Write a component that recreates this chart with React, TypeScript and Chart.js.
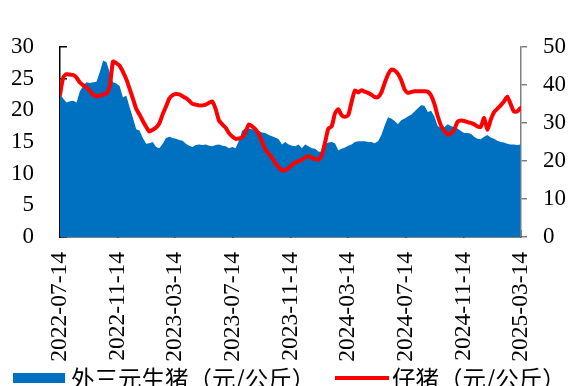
import React, { useEffect, useRef } from 'react';
import { Chart, registerables } from 'chart.js';

Chart.register(...registerables);

const START_DATE = '2022-07-14';
const TICK_LABELS = [
  '2022-07-14', '2022-11-14', '2023-03-14', '2023-07-14', '2023-11-14',
  '2024-03-14', '2024-07-14', '2024-11-14', '2025-03-14',
];
const SERIES_NAMES = ['外三元生猪（元/公斤）', '仔猪（元/公斤）'];

// weekly prices, starting 2022-07-14
const HOG_PRICE = [
  22.6, 21.8, 21.2, 21.4, 21.5, 21.2, 23.0, 23.8, 24.4, 24.3,
  24.4, 24.5, 26.0, 27.8, 27.6, 26.0, 24.4, 24.2, 23.8, 22.0,
  22.3, 20.5, 18.8, 17.0, 16.8, 15.6, 14.7, 14.8, 15.0, 14.2,
  14.0, 14.7, 15.6, 15.8, 15.6, 15.5, 15.3, 15.2, 14.7, 14.4,
  14.2, 14.5, 14.6, 14.5, 14.6, 14.4, 14.3, 14.5, 14.6, 14.4,
  14.3, 14.0, 14.2, 14.0, 15.2, 16.8, 17.1, 17.1, 17.0, 16.8,
  16.7, 16.5, 16.4, 16.1, 15.9, 15.7, 15.4, 14.6, 15.0, 14.6,
  14.4, 14.3, 14.6, 14.0, 14.6, 14.3, 14.0, 13.9, 13.5, 13.4,
  14.6, 14.9, 15.0, 14.8, 13.7, 13.9, 14.1, 14.4, 14.6, 15.0,
  15.1, 15.1, 15.1, 15.0, 15.0, 14.8, 15.1, 16.1, 17.6, 18.9,
  18.7, 18.3, 17.8, 18.4, 18.7, 19.0, 19.3, 19.8, 20.3, 20.8,
  20.7, 19.7, 19.9, 19.0, 17.5, 17.2, 17.3, 17.8, 17.5, 17.3,
  17.1, 16.7, 16.4, 16.4, 16.3, 15.8, 15.5, 15.4, 15.8, 16.1,
  15.7, 15.5, 15.2, 15.0, 14.9, 14.7, 14.6, 14.6, 14.5, 14.6,
];
const PIGLET_PRICE = [
  37.4, 42.0, 42.8, 42.7, 42.6, 41.9, 40.6, 39.9, 39.3, 38.5,
  37.4, 37.0, 37.2, 37.4, 37.7, 39.5, 46.1, 45.7, 45.0, 43.4,
  41.5, 39.0, 36.4, 33.7, 32.2, 30.5, 29.0, 27.7, 28.2, 28.8,
  29.9, 32.3, 34.3, 36.4, 37.3, 37.6, 37.5, 37.0, 36.5, 35.8,
  35.0, 34.8, 34.6, 34.6, 34.8, 35.3, 35.6, 33.6, 30.6, 29.6,
  28.7, 27.3, 26.4, 25.8, 25.9, 26.2, 27.6, 29.6, 29.1, 28.3,
  27.0, 25.0, 23.0, 21.9, 20.8, 19.4, 18.3, 17.5, 17.6, 18.1,
  18.9, 19.6, 19.9, 20.3, 20.9, 21.2, 20.8, 20.5, 20.3, 21.5,
  24.8, 28.5, 29.1, 32.5, 33.6, 32.0, 31.6, 32.0, 35.5, 38.5,
  38.0, 38.6, 38.2, 37.9, 37.4, 36.8, 36.8, 38.0, 40.5, 42.7,
  44.0, 43.8, 42.9, 41.2, 38.8, 37.9, 38.1, 38.3, 38.3, 38.3,
  38.3, 38.2, 37.2, 35.0, 31.8, 29.3, 27.9, 27.0, 27.3, 28.3,
  30.3, 30.6, 30.5, 30.2, 30.0, 29.6, 29.1, 28.9, 31.3, 28.2,
  30.8, 32.8, 33.7, 34.6, 35.6, 36.9, 35.0, 33.0, 33.0, 33.9,
];
const LEFT_MAX = 30;
const LEFT_STEP = 5;
const RIGHT_MAX = 50;
const RIGHT_STEP = 10;

const BLUE = '#0070C0';
const RED = '#FF0000';
const DAY_MS = 86400000;
const toDay = (s: string) => Math.round((Date.parse(s) - Date.parse(START_DATE)) / DAY_MS);
const TICK_DAYS = TICK_LABELS.map(toDay);
const X_MAX = TICK_DAYS[TICK_DAYS.length - 1];

const W = 572;
const H = 386;
const AREA_LEFT = 60;
const AREA_RIGHT = 521;
const AREA_TOP = 23;
const AREA_BOTTOM = 237;
const PAD_BOTTOM = 20;
const SERIF = '"Liberation Serif", "Times New Roman", serif';
const CJK = '"Noto Sans CJK SC", "Noto Sans", sans-serif';

export default function App() {
  const ref = useRef<HTMLCanvasElement>(null);

  useEffect(() => {
    const canvas = ref.current;
    if (!canvas) return;
    const chart = new Chart(canvas, {
      type: 'line',
      data: {
        datasets: [
          {
            label: SERIES_NAMES[0],
            data: HOG_PRICE.map((v, i) => ({ x: i * 7, y: v })),
            yAxisID: 'y',
            backgroundColor: BLUE,
            borderColor: BLUE,
            borderWidth: 0,
            pointRadius: 0,
            fill: 'origin',
            tension: 0,
            order: 1,
          },
          {
            label: SERIES_NAMES[1],
            data: PIGLET_PRICE.map((v, i) => ({ x: i * 7, y: v })),
            yAxisID: 'y1',
            borderColor: RED,
            backgroundColor: RED,
            borderWidth: 4,
            pointRadius: 0,
            fill: false,
            tension: 0.2,
            borderJoinStyle: 'round',
            borderCapStyle: 'round',
            order: 0,
          },
        ],
      },
      options: {
        responsive: false,
        maintainAspectRatio: false,
        animation: false,
        devicePixelRatio: 1,
        layout: { padding: { left: 0, right: 0, top: AREA_TOP, bottom: PAD_BOTTOM } },
        plugins: {
          tooltip: { enabled: false },
          legend: { display: false },
        },
        scales: {
          x: {
            type: 'linear',
            min: 0,
            max: X_MAX,
            afterBuildTicks: (scale: any) => {
              scale.ticks = TICK_DAYS.map((v) => ({ value: v }));
            },
            afterFit: (scale: any) => {
              scale.height = H - PAD_BOTTOM - AREA_BOTTOM;
            },
            ticks: {
              autoSkip: false,
              maxRotation: 90,
              minRotation: 90,
              padding: 22,
              color: '#000',
              font: { family: SERIF, size: 23.5 },
              callback: (value: any) => {
                const idx = TICK_DAYS.indexOf(Number(value));
                return idx >= 0 ? TICK_LABELS[idx] : '';
              },
            },
            grid: { drawOnChartArea: false, tickLength: -7, color: '#000', lineWidth: 1.5 },
            border: { display: true, color: '#000', width: 1.5 },
          },
          y: {
            type: 'linear',
            position: 'left',
            min: 0,
            max: LEFT_MAX,
            afterFit: (scale: any) => {
              scale.width = AREA_LEFT;
            },
            ticks: {
              stepSize: LEFT_STEP,
              autoSkip: false,
              padding: 33,
              color: '#000',
              font: { family: SERIF, size: 23 },
            },
            grid: { drawOnChartArea: false, tickLength: -7, color: '#000', lineWidth: 1.5 },
            border: { display: true, color: '#000', width: 1.5 },
          },
          y1: {
            type: 'linear',
            position: 'right',
            min: 0,
            max: RIGHT_MAX,
            afterFit: (scale: any) => {
              scale.width = W - AREA_RIGHT;
            },
            ticks: {
              stepSize: RIGHT_STEP,
              autoSkip: false,
              padding: 16,
              color: '#000',
              font: { family: SERIF, size: 23 },
            },
            grid: { drawOnChartArea: false, tickLength: 6, color: '#808080', lineWidth: 1.5 },
            border: { display: true, color: '#808080', width: 1.5 },
          },
        },
      },
    } as any);
    return () => chart.destroy();
  }, []);

  const legendText: React.CSSProperties = {
    position: 'absolute',
    top: 367,
    height: 23,
    lineHeight: '23px',
    fontFamily: CJK,
    fontSize: 23.5,
    color: '#000',
    whiteSpace: 'nowrap',
  };

  return (
    <div
      style={{
        position: 'fixed',
        left: 0,
        top: 0,
        width: W,
        height: H,
        overflow: 'hidden',
        background: '#fff',
      }}
    >
      <canvas ref={ref} width={W} height={H} style={{ display: 'block', width: W, height: H }} />
      <div style={{ position: 'absolute', left: 13, top: 373, width: 52, height: 10, background: BLUE }} />
      <div style={{ ...legendText, left: 71 }}>{SERIES_NAMES[0]}</div>
      <div style={{ position: 'absolute', left: 335, top: 376, width: 54, height: 4, background: RED }} />
      <div style={{ ...legendText, left: 392 }}>{SERIES_NAMES[1]}</div>
    </div>
  );
}
